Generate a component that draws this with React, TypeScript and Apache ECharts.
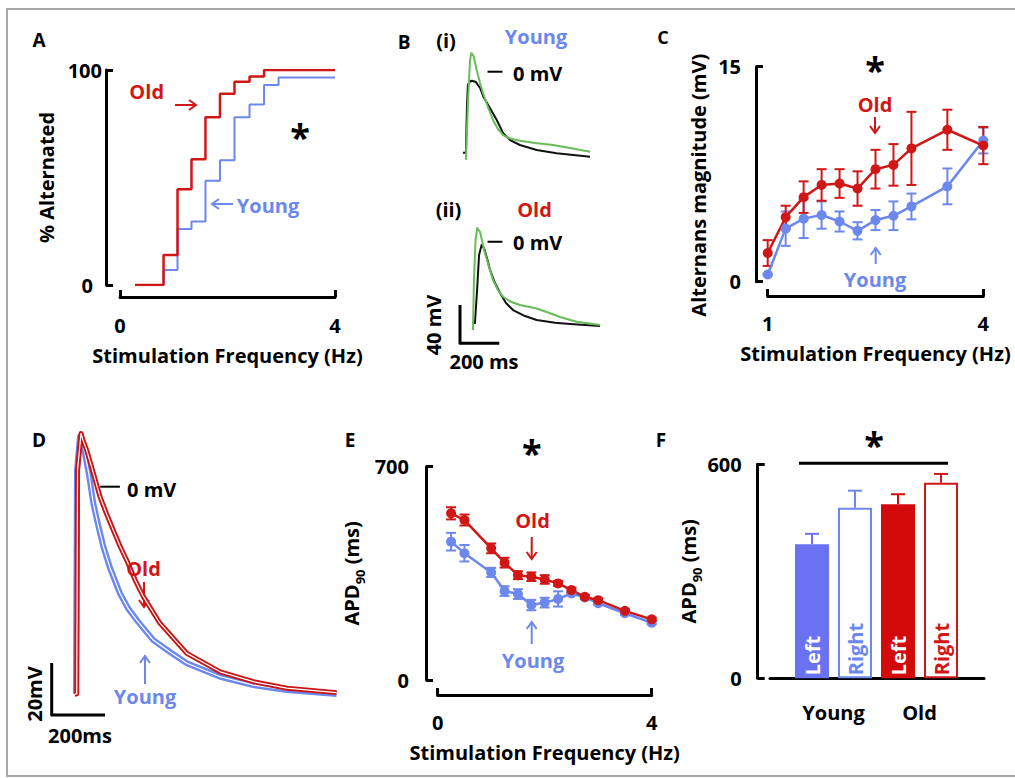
import React, { useEffect, useRef } from "react";
import * as echarts from "echarts";

// ---------- Panel A : % alternated vs stimulation frequency (step curves)
const aYoungFreq = [0.28, 0.81, 1.07, 1.33, 1.59, 1.86, 2.13, 2.41, 2.68, 2.95, 4.0];
const aYoungPct = [0, 7, 26, 29.5, 48.5, 58, 78, 84, 93, 96.5, 96.5];
const aOldFreq = [0.28, 0.81, 1.07, 1.33, 1.59, 1.86, 2.13, 2.41, 2.68, 4.0];
const aOldPct = [0, 14, 44.5, 58.5, 78, 89, 94.5, 97, 100, 100];

// ---------- Panel B : example alternating beats (time ms, voltage mV)
const bYoungBeat1T = [15, 30, 35, 40, 50, 61, 81, 102, 119, 153, 187, 220, 255, 305, 390, 492, 662];
const bYoungBeat1V = [-84.6, -84.6, -40, -13.9, -10.2, -9.4, -10.8, -17, -26.1, -38.2, -50.4, -64.3, -71.3, -76.5, -81.7, -85.2, -88.7];
const bYoungBeat2T = [30, 41, 51, 58, 69, 85, 102, 117, 142, 168, 193, 220, 255, 305, 382, 473, 560, 662];
const bYoungBeat2V = [-92, -29.5, 12.2, 19.5, 16.4, 1.8, -11.8, -22.2, -36.8, -50.4, -59.8, -66.1, -69.7, -72, -74.4, -76.5, -79.6, -83.5];
const bOldBeat1T = [61, 76, 87, 97, 110, 122, 137, 153, 178, 204, 234, 270, 331, 390, 484, 560, 713];
const bOldBeat1V = [-84.6, -84.9, -50.4, -13.9, -3.4, -6.6, -17, -29.5, -43.1, -53.5, -64, -71.3, -77.6, -81.7, -84.6, -85.9, -88];
const bOldBeat2T = [66, 71, 79, 88, 102, 117, 127, 148, 168, 193, 219, 255, 305, 390, 441, 509, 594, 713];
const bOldBeat2V = [-92.2, -40, 1.8, 14.3, 10.1, -3.4, -11.8, -26.4, -40, -50.4, -57.4, -62.4, -66.1, -69.7, -73.4, -78.6, -83.5, -87];
const bScaleT = [0, 0, 200];
const bScaleV = [-66, -106, -106];
const bZeroT = [140, 216];

// ---------- Panel C : alternans magnitude (mV)
const cFreq = [1, 1.25, 1.5, 1.75, 2, 2.25, 2.5, 2.75, 3, 3.5, 4];
const cOld = [2.0, 4.5, 5.9, 6.75, 6.85, 6.5, 7.85, 8.15, 9.3, 10.6, 9.5];
const cOldErr = [0.9, 0.8, 1.1, 1.1, 1.0, 1.2, 1.35, 1.45, 2.55, 1.4, 1.3];
const cYoung = [0.5, 3.7, 4.4, 4.65, 4.2, 3.55, 4.3, 4.6, 5.25, 6.65, 9.85];
const cYoungErr = [0, 1.2, 1.35, 0.95, 0.7, 0.6, 0.7, 1.0, 0.9, 1.25, 0.9];

// ---------- Panel D : mean action potentials (time ms, voltage mV)
const dOldT = [87, 94, 97, 110, 117, 131, 155, 181, 206, 231, 256, 281, 313, 344, 406, 507, 632, 757, 882, 1069];
const dOldV = [-79.7, -79.7, 6.4, 20.5, 18, 14.1, 5.7, -3.8, -10.5, -16.7, -22.8, -28.2, -35.9, -42.3, -52.5, -64.1, -71.2, -75, -77.5, -79.2];
const dYoungT = [91, 95, 106, 114, 125, 140, 156, 174, 194, 219, 256, 286, 319, 381, 444, 507, 632, 757, 882, 1069];
const dYoungV = [-79.7, 6.4, 19.2, 17.2, 12.8, 4.5, -6.4, -14.7, -23.1, -31.3, -41, -46.7, -51.3, -59, -63.6, -67.9, -73.1, -76.3, -78.2, -79.7];
const dScaleT = [0, 0, 200];
const dScaleV = [-67.8, -87.8, -87.8];
const dZeroT = [182, 256];

// ---------- Panel E : APD90 (ms) vs frequency
const eFreq = [0.25, 0.5, 1, 1.25, 1.5, 1.75, 2, 2.25, 2.5, 2.75, 3, 3.5, 4];
const eOld = [547, 525, 432, 385, 344, 339, 330, 317, 295, 273, 262, 227, 199];
const eOldErr = [20, 18, 16, 16, 13, 14, 14, 8, 8, 6, 6, 5, 5];
const eYoung = [454, 416, 353, 292, 282, 246, 254, 266, 284, 271, 252, 219, 188];
const eYoungErr = [29, 27, 15, 16, 16, 17, 16, 25, 6, 6, 5, 5, 5];

// ---------- Panel F : APD90 by ventricle
const fKeys = ["Young Left", "Young Right", "Old Left", "Old Right"];
const fSide = ["Left", "Right", "Left", "Right"];
const fGroups = ["Young", "Old"];
const fValues = [376, 478, 488, 548];
const fErr = [29, 48, 28, 25];

// ---------- styles
const FONT = "'Open Sans', 'Liberation Sans', sans-serif";
const RED = "#d11616";
const BLUE = "#6c88ec";
const BAR_BLUE = "#6a72f3";
const BAR_RED = "#d30a0a";
const GREEN = "#67bd57";

const tStyle = { color: "#000", fontSize: 20, fontWeight: "bold", fontFamily: FONT };
const tStyleLH = { ...tStyle, lineHeight: 20 };

const zip = (a: number[], b: number[]) => a.map((v, i) => [v, b[i]]);

function txt(text: string, x: number, y: number, o: any = {}) {
  return {
    type: "text",
    x,
    y,
    rotation: o.rotation || 0,
    z: 100,
    style: {
      text,
      fill: o.color || "#000",
      fontSize: o.size || 20,
      fontWeight: "bold",
      fontFamily: FONT,
      align: o.align || "center",
      verticalAlign: "middle",
    },
  };
}

function arrow(x1: number, y1: number, x2: number, y2: number, color: string) {
  const dx = x2 - x1;
  const dy = y2 - y1;
  const len = Math.hypot(dx, dy);
  const ux = dx / len;
  const uy = dy / len;
  const h = 7;
  const w = 5;
  return {
    type: "group",
    z: 100,
    children: [
      { type: "line", shape: { x1, y1, x2, y2 }, style: { stroke: color, lineWidth: 2 } },
      {
        type: "polyline",
        shape: {
          points: [
            [x2 - ux * h - uy * w, y2 - uy * h + ux * w],
            [x2, y2],
            [x2 - ux * h + uy * w, y2 - uy * h - ux * w],
          ],
        },
        style: { stroke: color, lineWidth: 2, fill: null },
      },
    ],
  };
}

function xVal(gridIndex: number, min: number, max: number, ticks: number[], offset: number, margin: number, name: string, nameGap: number) {
  return {
    type: "value",
    gridIndex,
    min,
    max,
    position: "bottom",
    offset,
    axisLine: { show: true, onZero: false, lineStyle: { color: "#000", width: 3 } },
    axisTick: { show: true, inside: true, length: 7, customValues: ticks, lineStyle: { color: "#000", width: 3 } },
    axisLabel: { show: true, customValues: ticks, margin, ...tStyleLH },
    splitLine: { show: false },
    name,
    nameLocation: "middle",
    nameGap,
    nameTextStyle: { ...tStyleLH },
  };
}

function yVal(gridIndex: number, min: number, max: number, ticks: number[], offset: number, margin: number, name: string, nameGap: number, extra: any = {}) {
  return {
    type: "value",
    gridIndex,
    min,
    max,
    position: "left",
    offset,
    axisLine: { show: true, onZero: false, lineStyle: { color: "#000", width: 3 } },
    axisTick: { show: true, inside: true, length: 7, customValues: ticks, lineStyle: { color: "#000", width: 3 } },
    axisLabel: { show: true, customValues: ticks, margin, ...tStyle, ...(extra.axisLabel || {}) },
    splitLine: { show: false },
    name,
    nameLocation: "middle",
    nameRotate: 90,
    nameGap,
    nameTextStyle: { ...tStyle, ...(extra.nameTextStyle || {}) },
  };
}

function hiddenAxis(gridIndex: number, min: number, max: number) {
  return { type: "value", gridIndex, min, max, show: false, axisLine: { onZero: false }, splitLine: { show: false } };
}

function errSeries(xi: number, xs: number[], ys: number[], errs: number[], color: string, half: number, upOnly = false, colors?: string[]) {
  return {
    type: "custom",
    xAxisIndex: xi,
    yAxisIndex: xi,
    silent: true,
    encode: { x: 0, y: [1, 2] },
    data: xs.map((x, i) => [x, upOnly ? ys[i] : ys[i] - errs[i], ys[i] + errs[i]]),
    renderItem: (params: any, api: any) => {
      const x = api.value(0);
      const lo = api.coord([x, api.value(1)]);
      const hi = api.coord([x, api.value(2)]);
      const c = colors ? colors[params.dataIndex] : color;
      const st = { stroke: c, lineWidth: 2 };
      const children: any[] = [
        { type: "line", shape: { x1: lo[0], y1: lo[1], x2: hi[0], y2: hi[1] }, style: st },
        { type: "line", shape: { x1: hi[0] - half, y1: hi[1], x2: hi[0] + half, y2: hi[1] }, style: st },
      ];
      if (!upOnly) children.push({ type: "line", shape: { x1: lo[0] - half, y1: lo[1], x2: lo[0] + half, y2: lo[1] }, style: st });
      return { type: "group", children };
    },
  };
}

function trace(xi: number, data: number[][], color: string, width: number, z = 2) {
  return {
    type: "line",
    xAxisIndex: xi,
    yAxisIndex: xi,
    data,
    showSymbol: false,
    symbol: "none",
    silent: true,
    clip: false,
    z,
    lineStyle: { color, width, join: "round" },
  };
}

function dotLine(xi: number, xs: number[], ys: number[], color: string) {
  return {
    type: "line",
    xAxisIndex: xi,
    yAxisIndex: xi,
    data: zip(xs, ys),
    symbol: "circle",
    symbolSize: 10,
    showSymbol: true,
    silent: true,
    itemStyle: { color, borderWidth: 0 },
    lineStyle: { color, width: 2.5 },
  };
}

function buildOption(): any {
  const fColors = [BAR_BLUE, BLUE, BAR_RED, RED];
  const grids = [
    { left: 120, top: 70, width: 215, height: 215 }, // A
    { left: 460, top: 33.4, width: 157.2, height: 143.7 }, // B(i)
    { left: 460, top: 203.4, width: 157.2, height: 143.7 }, // B(ii)
    { left: 767.7, top: 66.7, width: 215.6, height: 215 }, // C
    { left: 51.7, top: 421.7, width: 293.2, height: 325 }, // D
    { left: 437.7, top: 466.7, width: 214, height: 213.3 }, // E
    { left: 790.5, top: 464.3, width: 172, height: 214 }, // F
    { left: 770, top: 464.3, width: 214, height: 214 }, // F baseline
  ].map((g) => ({ ...g, outerBoundsMode: "none", containLabel: false }));

  const apdName = "{a|APD}{s|90}{a| (ms)}";
  const apdRich = {
    rich: {
      a: { ...tStyle, lineHeight: 30, verticalAlign: "middle" },
      s: { ...tStyle, fontSize: 13, lineHeight: 30, verticalAlign: "bottom" },
    },
  };

  const xAxis: any[] = [
    xVal(0, 0, 4, [0, 4], 12, 18, "Stimulation Frequency (Hz)", 48),
    hiddenAxis(1, 0, 800),
    hiddenAxis(2, 0, 800),
    xVal(3, 1, 4, [1, 4], 14.3, 17, "Stimulation Frequency (Hz)", 47),
    hiddenAxis(4, 0, 1100),
    xVal(5, 0, 4, [0, 4], 15, 17, "Stimulation Frequency (Hz)", 47),
    {
      type: "category",
      gridIndex: 6,
      data: fKeys,
      position: "bottom",
      axisLine: { show: false },
      axisTick: { show: false },
      axisLabel: { show: false },
    },
    {
      type: "category",
      gridIndex: 6,
      data: fGroups,
      position: "bottom",
      axisLine: { show: false },
      axisTick: { show: false },
      axisLabel: { show: true, margin: 24, ...tStyleLH },
    },
    {
      type: "value",
      gridIndex: 7,
      min: 0,
      max: 1,
      position: "bottom",
      axisLine: { show: true, onZero: false, lineStyle: { color: "#000", width: 3 } },
      axisTick: { show: false },
      axisLabel: { show: false },
      splitLine: { show: false },
    },
  ];

  const yAxis: any[] = [
    yVal(0, 0, 100, [0, 100], 14, 4, "% Alternated", 50, {
      axisLabel: {
        formatter: (v: number) => (v === 100 ? "{a|100}" : "{b|0}"),
        rich: {
          a: { ...tStyle },
          b: { ...tStyle, padding: [0, 9, 0, 0] },
        },
      },
    }),
    hiddenAxis(1, -110, 40),
    hiddenAxis(2, -110, 40),
    yVal(3, 0, 15, [0, 15], 11.7, 15, "Alternans magnitude (mV)", 48, {
      nameTextStyle: { padding: [0, 22, 0, 0] },
    }),
    hiddenAxis(4, -100, 25),
    yVal(5, 0, 700, [0, 700], 11.7, 17, apdName, 60, { nameTextStyle: apdRich }),
    yVal(6, 0, 600, [0, 600], 32.8, 16, apdName, 42, { nameTextStyle: apdRich }),
    hiddenAxis(7, 0, 1),
  ];

  const series: any[] = [
    // A
    {
      type: "line", xAxisIndex: 0, yAxisIndex: 0, step: "end", data: zip(aYoungFreq, aYoungPct),
      showSymbol: false, symbol: "none", silent: true, lineStyle: { color: BLUE, width: 2 },
    },
    {
      type: "line", xAxisIndex: 0, yAxisIndex: 0, step: "end", data: zip(aOldFreq, aOldPct),
      showSymbol: false, symbol: "none", silent: true, lineStyle: { color: RED, width: 2.5 },
    },
    // B(i)
    trace(1, zip(bYoungBeat1T, bYoungBeat1V), "#111", 2),
    trace(1, zip(bYoungBeat2T, bYoungBeat2V), GREEN, 2),
    trace(1, zip(bZeroT, [0, 0]), "#000", 2),
    // B(ii)
    trace(2, zip(bOldBeat1T, bOldBeat1V), "#111", 2),
    trace(2, zip(bOldBeat2T, bOldBeat2V), GREEN, 2),
    trace(2, zip(bZeroT, [0, 0]), "#000", 2),
    trace(2, zip(bScaleT, bScaleV), "#000", 3),
    // C
    errSeries(3, cFreq, cYoung, cYoungErr, BLUE, 5),
    dotLine(3, cFreq, cYoung, BLUE),
    errSeries(3, cFreq, cOld, cOldErr, RED, 5),
    dotLine(3, cFreq, cOld, RED),
    // D
    trace(4, zip(dYoungT, dYoungV), BLUE, 6),
    trace(4, zip(dYoungT, dYoungV), "#ffffff", 1.2, 3),
    trace(4, zip(dOldT, dOldV), "#c81414", 5, 4),
    trace(4, zip(dOldT, dOldV), "#ffffff", 1.2, 5),
    trace(4, zip(dZeroT, [0, 0]), "#000", 2),
    trace(4, zip(dScaleT, dScaleV), "#000", 3),
    // E
    errSeries(5, eFreq, eYoung, eYoungErr, BLUE, 5),
    dotLine(5, eFreq, eYoung, BLUE),
    errSeries(5, eFreq, eOld, eOldErr, RED, 5),
    dotLine(5, eFreq, eOld, RED),
    // F
    {
      type: "bar",
      xAxisIndex: 6,
      yAxisIndex: 6,
      barWidth: 34,
      silent: true,
      data: fValues.map((v, i) => ({
        value: v,
        itemStyle: i % 2 === 0 ? { color: fColors[i] } : { color: "#fff", borderColor: fColors[i], borderWidth: 2 },
        label: { color: i % 2 === 0 ? "#fff" : fColors[i] },
      })),
      label: {
        show: true,
        position: "insideBottom",
        rotate: 90,
        align: "left",
        verticalAlign: "middle",
        distance: 3,
        formatter: (p: any) => fSide[p.dataIndex],
        fontSize: 20,
        fontWeight: "bold",
        fontFamily: FONT,
      },
    },
    errSeries(6, fValues.map((_, i) => i), fValues, fErr, BLUE, 7, true, fColors),
  ];

  const graphic: any[] = [
    { type: "rect", shape: { x: 7, y: 9, width: 1030, height: 767 }, style: { stroke: "#a8a8a8", lineWidth: 2, fill: null }, z: 0 },
    // panel letters
    txt("A", 39, 40, { size: 19 }),
    txt("B", 404, 41.5, { size: 19 }),
    txt("C", 663, 36.5, { size: 18 }),
    txt("D", 39, 440, { size: 19 }),
    txt("E", 350, 440, { size: 19 }),
    txt("F", 661, 440, { size: 19 }),
    // A
    txt("Old", 146.7, 91, { color: RED }),
    arrow(175, 105, 196, 105, RED),
    txt("Young", 268, 205, { color: BLUE }),
    arrow(233, 204, 212, 204, BLUE),
    txt("*", 300, 136, { size: 36 }),
    // B
    txt("(i)", 446, 40),
    txt("Young", 536, 36, { color: BLUE }),
    txt("0 mV", 513, 73.5, { align: "left" }),
    txt("(ii)", 448.5, 209),
    txt("Old", 534.5, 209, { color: RED }),
    txt("0 mV", 513, 242.5, { align: "left" }),
    txt("40 mV", 433.5, 325, { rotation: Math.PI / 2 }),
    txt("200 ms", 484, 361.5),
    // C
    txt("*", 875, 69, { size: 36 }),
    txt("Old", 875, 104.5, { color: RED }),
    arrow(875, 117, 875, 133, RED),
    txt("Young", 875, 279.5, { color: BLUE }),
    arrow(875.7, 264, 875.7, 248, BLUE),
    // D
    txt("0 mV", 127, 489, { align: "left" }),
    txt("Old", 143.5, 568.5, { color: RED }),
    arrow(144, 582, 144, 607, RED),
    txt("Young", 145, 696.5, { color: BLUE }),
    arrow(145, 684, 145, 656, BLUE),
    txt("20mV", 34, 694, { rotation: Math.PI / 2 }),
    txt("200ms", 80, 735.5),
    // E
    txt("*", 531.7, 452.5, { size: 36 }),
    txt("Old", 532.5, 520, { color: RED }),
    arrow(531.7, 537, 531.7, 559, RED),
    txt("Young", 533, 660, { color: BLUE }),
    arrow(531.7, 644, 531.7, 622, BLUE),
    // F
    { type: "line", shape: { x1: 799, y1: 463.3, x2: 948, y2: 463.3 }, style: { stroke: "#000", lineWidth: 3 }, z: 100 },
    txt("*", 874, 444, { size: 36 }),
  ];

  return {
    animation: false,
    backgroundColor: "#ffffff",
    grid: grids,
    xAxis,
    yAxis,
    series,
    graphic,
  };
}

export default function App() {
  const ref = useRef<HTMLDivElement>(null);
  useEffect(() => {
    if (!ref.current) return;
    const chart = echarts.init(ref.current, null, { renderer: "svg" });
    chart.setOption(buildOption());
    return () => chart.dispose();
  }, []);
  return (
    <div
      ref={ref}
      style={{ position: "absolute", left: 0, top: 0, width: 1015, height: 778, background: "#fff" }}
    />
  );
}
